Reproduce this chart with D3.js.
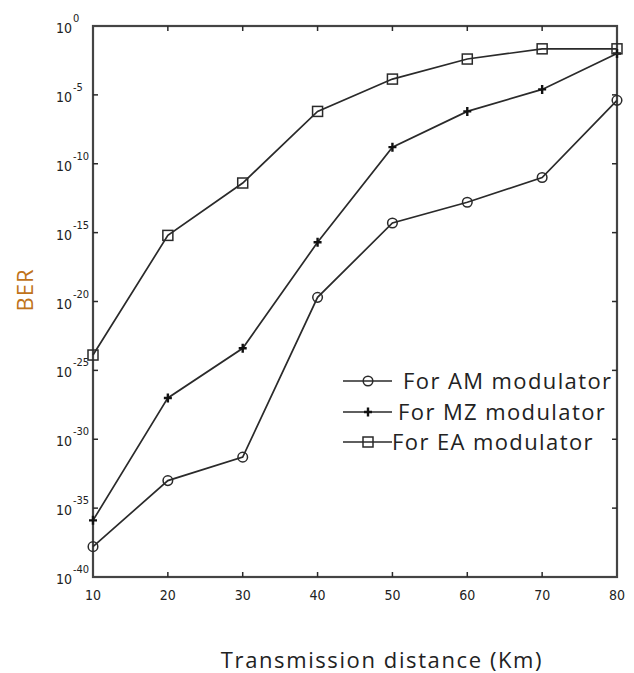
<!DOCTYPE html>
<meta charset="utf-8">
<style>
body { margin: 0; background: #fff; }
.tick-label { font-family: "DejaVu Sans Condensed", "DejaVu Sans", sans-serif; font-size: 14px; fill: #222; }
.axis-title { font-family: "Open Sans", sans-serif; font-size: 22px; fill: #222; }
.legend text { font-family: "Open Sans", sans-serif; font-size: 22px; fill: #222; letter-spacing: 1.4px; }
</style>
<body>
<div id="chart"></div>
<script src="https://cdn.jsdelivr.net/npm/d3@7"></script>
<script>
// distance in km
var distances = [10, 20, 30, 40, 50, 60, 70, 80];
// BER
var berAM = [1.6e-38, 1e-33, 5e-32, 2e-20, 5e-15, 1.6e-13, 1e-11, 4e-6];
var berMZ = [1.3e-36, 1e-27, 4e-24, 2e-16, 1.6e-9, 6.3e-7, 2.5e-5, 1e-2];
var berEA = [1.3e-24, 6.3e-16, 4e-12, 6.3e-7, 1.4e-4, 4e-3, 2.2e-2, 2.2e-2];
var seriesNames = ["For AM modulator", "For MZ modulator", "For EA modulator"];
var xTicks = [10, 20, 30, 40, 50, 60, 70, 80];
var yExponents = [0, -5, -10, -15, -20, -25, -30, -35, -40];

var W = 634, H = 673;
var margin = {top: 26, right: 17, bottom: 96, left: 93},
    width = W - margin.left - margin.right,
    height = H - margin.top - margin.bottom;

var svg = d3.select("#chart").append("svg")
    .attr("width", W)
    .attr("height", H);

var g = svg.append("g")
    .attr("transform", "translate(" + margin.left + "," + margin.top + ")");

var x = d3.scaleLinear().domain([10, 80]).range([0, width]);
var y = d3.scaleLog().domain([1e-40, 1]).range([height, 0]);

var ink = "#2a2a2a";

// box
g.append("rect")
    .attr("width", width)
    .attr("height", height)
    .attr("fill", "none")
    .attr("stroke", "#444")
    .attr("stroke-width", 2.2);

// inward ticks on all four sides
var tk = 5;
xTicks.slice(1, -1).forEach(function(t) {
  g.append("line").attr("x1", x(t)).attr("x2", x(t)).attr("y1", height).attr("y2", height - tk)
    .attr("stroke", ink).attr("stroke-width", 1.5);
  g.append("line").attr("x1", x(t)).attr("x2", x(t)).attr("y1", 0).attr("y2", tk)
    .attr("stroke", ink).attr("stroke-width", 1.5);
});
yExponents.slice(1, -1).forEach(function(e) {
  var yy = y(Math.pow(10, e));
  g.append("line").attr("x1", 0).attr("x2", tk).attr("y1", yy).attr("y2", yy)
    .attr("stroke", ink).attr("stroke-width", 1.5);
  g.append("line").attr("x1", width).attr("x2", width - tk).attr("y1", yy).attr("y2", yy)
    .attr("stroke", ink).attr("stroke-width", 1.5);
});

// x tick labels
g.selectAll(".xl").data(xTicks).enter().append("text")
    .attr("class", "tick-label")
    .attr("x", function(d) { return x(d); })
    .attr("y", height + 23)
    .attr("text-anchor", "middle")
    .text(function(d) { return d; });

// y tick labels: 10 with raised exponent
yExponents.forEach(function(e) {
  var yy = y(Math.pow(10, e));
  g.append("text")
      .attr("class", "tick-label")
      .attr("x", -21)
      .attr("y", yy + 7)
      .attr("text-anchor", "end")
      .text("10");
  g.append("text")
      .attr("class", "tick-label")
      .attr("x", -20)
      .attr("y", yy - 4)
      .style("font-size", "11px")
      .text(e);
});

// axis titles
svg.append("text")
    .attr("class", "axis-title")
    .attr("x", (217 + 547) / 2)
    .attr("y", 668)
    .attr("text-anchor", "middle")
    .style("letter-spacing", "1.6px")
    .text("Transmission distance (Km)");

svg.append("text")
    .attr("class", "axis-title")
    .attr("transform", "translate(33,290)rotate(-90)")
    .attr("text-anchor", "middle")
    .style("fill", "#c0731a")
    .style("letter-spacing", "1px")
    .text("BER");

// series
var series = [
  {name: seriesNames[0], values: berAM, marker: "circle"},
  {name: seriesNames[1], values: berMZ, marker: "plus"},
  {name: seriesNames[2], values: berEA, marker: "square"}
];

var line = d3.line()
    .x(function(d) { return x(d[0]); })
    .y(function(d) { return y(d[1]); });

function drawMarker(sel, type, cx, cy) {
  if (type == "circle") {
    sel.append("circle").attr("cx", cx).attr("cy", cy).attr("r", 4.8)
      .attr("fill", "none").attr("stroke", ink).attr("stroke-width", 1.5);
  } else if (type == "square") {
    sel.append("rect").attr("x", cx - 5).attr("y", cy - 5).attr("width", 10).attr("height", 10)
      .attr("fill", "none").attr("stroke", ink).attr("stroke-width", 1.5);
  } else {
    sel.append("path").attr("d", "M" + (cx - 4) + "," + cy + "H" + (cx + 4) + "M" + cx + "," + (cy - 4.5) + "V" + (cy + 4.5))
      .attr("stroke", "#111").attr("stroke-width", 2.4);
  }
}

series.forEach(function(s) {
  var pts = d3.zip(distances, s.values);
  g.append("path")
      .datum(pts)
      .attr("fill", "none")
      .attr("stroke", ink)
      .attr("stroke-width", 1.7)
      .attr("d", line);
  pts.forEach(function(p) { drawMarker(g, s.marker, x(p[0]), y(p[1])); });
});

// legend (no frame)
var legendRows = [{y: 381, tx: 403}, {y: 412, tx: 398}, {y: 442, tx: 392}];
var legend = svg.append("g").attr("class", "legend");
series.forEach(function(s, i) {
  var r = legendRows[i];
  legend.append("line").attr("x1", 343).attr("x2", 392).attr("y1", r.y).attr("y2", r.y)
    .attr("stroke", ink).attr("stroke-width", 1.7);
  drawMarker(legend, s.marker, 368, r.y);
  legend.append("text").attr("x", r.tx).attr("y", r.y + 8).text(s.name);
});
</script>
</body>
